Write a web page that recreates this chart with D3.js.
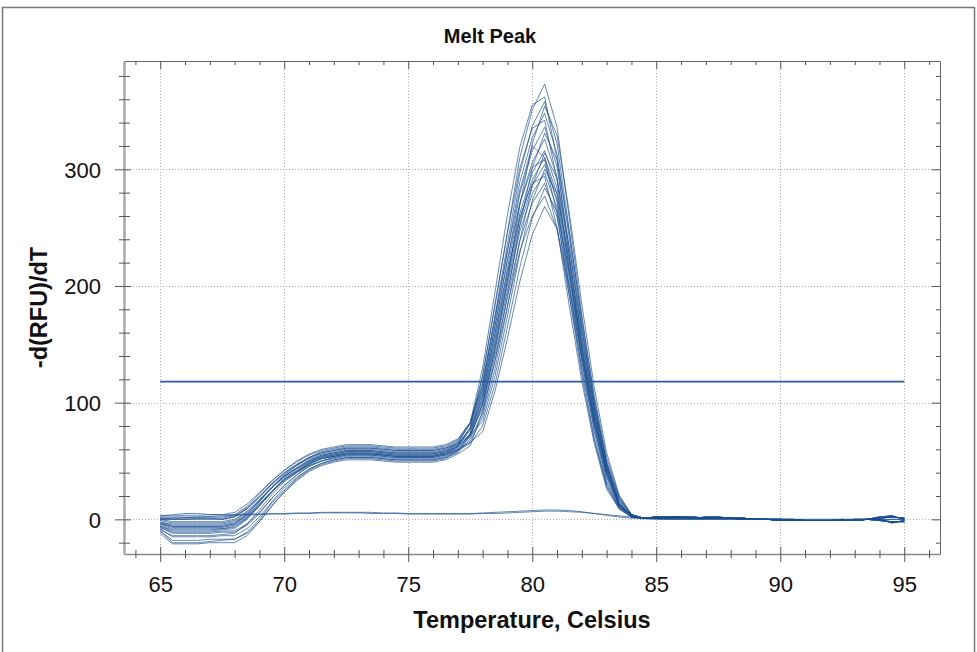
<!DOCTYPE html>
<html lang="en">
<head>
  <meta charset="UTF-8">
  <title>Melt Peak</title>
</head>
<body>
  <style>
    body { margin: 0; background-color: #fff; }
    svg { display: block; font-family: "Liberation Sans", Arial, sans-serif; }
    .grid line { stroke: #b0b0b0; stroke-width: 1px; stroke-dasharray: 1,2; }
    .curve { fill: none; stroke: #1b4f91; stroke-width: 0.9px; stroke-opacity: 0.75; }
    .threshold { stroke: #2a5f9f; stroke-width: 1.8px; }
    .axis text { font-size: 22px; fill: #111; font-family: "Liberation Sans", Arial, sans-serif; }
    .axis line { stroke: #555; }
    .axis-title { font-weight: bold; fill: #111; }
  </style>
  <svg width="977" height="652"></svg>
  <script src="https://cdn.jsdelivr.net/npm/d3@7"></script>
  <script>
    // temperature steps (Celsius)
    var temps = [65, 65.5, 66, 66.5, 67, 67.5, 68, 68.5, 69, 69.5,
                 70, 70.5, 71, 71.5, 72, 72.5, 73, 73.5, 74, 74.5,
                 75, 75.5, 76, 76.5, 77, 77.5, 78, 78.5, 79, 79.5,
                 80, 80.5, 81, 81.5, 82, 82.5, 83, 83.5, 84, 84.5,
                 85, 85.5, 86, 86.5, 87, 87.5, 88, 88.5, 89, 89.5,
                 90, 90.5, 91, 91.5, 92, 92.5, 93, 93.5, 94, 94.5, 95];

    // -d(RFU)/dT per well
    var c01 = [1,0,0,0,0,0,2,9,19,30, 40,47,53,57,59,61,61,61,60,59, 59,59,59,61,66,82,123,183,246,310, 351,373,336,257,175,104,48,15,3,1, 2,2,2,1,1,1,1,1,0,0, 0,-1,-1,-1,-1,-1,-1,0,1,2, 1];
    var c02 = [-3,-4,-4,-4,-4,-4,-2,5,16,27, 37,44,51,55,57,59,59,59,58,57, 57,57,57,59,65,83,130,195,261,319, 355,362,308,224,145,80,33,11,2,1, 1,1,2,2,1,1,1,0,0,0, -1,-1,-1,-1,-1,-1,0,0,-1,-2, -2];
    var c03 = [3,4,5,5,4,4,6,13,23,33, 42,49,55,59,61,63,63,63,62,61, 61,61,61,63,68,83,118,175,236,297, 337,358,322,247,168,100,47,14,3,1, 2,1,1,1,2,2,1,1,0,0, 0,0,-1,-1,-1,-1,-1,0,2,3, 0];
    var c04 = [-6,-9,-9,-9,-9,-8,-7,1,12,24, 35,42,49,54,56,58,58,58,57,56, 56,56,56,58,63,71,99,145,205,269, 322,354,329,262,184,113,57,21,4,1, 1,2,2,1,1,1,1,0,0,0, -1,-1,-1,-1,-1,0,-1,0,0,-3, -1];
    var c05 = [-4,-6,-6,-6,-6,-6,-4,4,15,28, 38,46,53,58,60,62,62,62,61,60, 60,60,60,62,67,82,115,171,230,289, 327,348,313,240,164,97,45,14,3,1, 2,2,2,1,1,1,1,1,0,0, 0,-1,-1,-1,-1,-1,-1,0,1,2, 1];
    var c06 = [-9,-14,-14,-14,-14,-13,-12,-4,8,21, 32,40,47,52,54,56,56,56,55,54, 54,54,54,56,62,79,123,185,246,301, 335,342,291,212,137,75,31,10,2,1, 1,1,2,2,1,1,1,0,0,0, -1,-1,-1,-1,-1,-1,0,0,-1,-2, -2];
    var c07 = [2,2,2,2,2,2,4,11,22,33, 42,50,56,60,62,64,64,64,63,62, 62,62,62,64,69,83,111,165,222,279, 316,336,302,232,158,94,44,13,3,1, 2,1,1,1,2,2,1,1,0,0, 0,0,-1,-1,-1,-1,-1,0,2,3, 0];
    var c08 = [-10,-20,-20,-20,-19,-18,-17,-12,-2,12, 23,33,41,46,49,51,51,51,50,49, 49,49,49,51,56,63,93,136,192,252, 301,331,308,245,172,106,53,20,4,1, 1,2,2,1,1,1,1,0,0,0, -1,-1,-1,-1,-1,0,-1,0,0,-3, -1];
    var c09 = [-2,-5,-5,-5,-5,-5,-3,4,15,27, 37,44,50,55,57,59,59,59,58,57, 57,57,57,59,64,78,108,160,215,271, 306,326,293,225,153,91,42,13,3,1, 2,2,2,1,1,1,1,1,0,0, 0,-1,-1,-1,-1,-1,-1,0,1,2, 1];
    var c10 = [-6,-10,-10,-10,-10,-9,-8,0,11,23, 34,41,48,53,55,57,57,57,56,55, 55,55,55,57,63,78,115,173,230,282, 320,310,272,198,128,70,29,10,2,1, 1,1,2,2,1,1,1,0,0,0, -1,-1,-1,-1,-1,-1,0,0,-1,-2, -2];
    var c11 = [0,0,0,1,1,0,2,9,19,30, 39,46,52,56,58,60,60,60,59,58, 58,58,58,60,65,78,104,155,209,262, 297,316,284,218,149,88,41,13,3,1, 2,1,1,1,2,2,1,1,0,0, 0,0,-1,-1,-1,-1,-1,0,2,3, 0];
    var c12 = [-7,-12,-12,-12,-12,-11,-11,-5,5,18, 29,38,45,50,53,55,55,55,54,53, 53,53,53,55,60,67,88,129,182,239, 286,314,292,232,163,100,50,19,4,1, 1,2,2,1,1,1,1,0,0,0, -1,-1,-1,-1,-1,0,-1,0,0,-3, -1];
    var c13 = [-1,-3,-3,-3,-3,-3,-1,6,16,27, 37,44,50,54,56,58,58,58,57,56, 56,56,56,58,63,76,102,152,205,257, 291,310,279,214,146,87,40,12,3,1, 2,2,2,1,1,1,1,1,0,0, 0,-1,-1,-1,-1,-1,-1,0,1,2, 1];
    var c14 = [-10,-18,-18,-18,-17,-17,-17,-11,0,14, 25,35,43,48,51,53,53,53,52,51, 51,51,51,53,59,74,111,166,222,271, 302,308,262,191,123,68,28,9,2,1, 1,1,2,2,1,1,1,0,0,0, -1,-1,-1,-1,-1,-1,0,0,-1,-2, -2];
    var c15 = [-5,-8,-8,-8,-8,-8,-6,1,12,24, 34,41,47,52,54,56,56,56,55,54, 54,54,54,56,61,73,100,149,201,252, 286,304,274,210,143,85,40,12,3,1, 2,1,1,1,2,2,1,1,0,0, 0,0,-1,-1,-1,-1,-1,0,2,3, 0];
    var c16 = [1,1,1,1,1,1,3,10,20,31, 40,47,53,57,59,61,61,61,60,59, 59,59,59,61,65,72,84,123,174,228, 273,300,279,222,156,96,48,18,4,1, 1,2,2,1,1,1,1,0,0,0, -1,-1,-1,-1,-1,0,-1,0,0,-3, -1];
    var c17 = [-3,-6,-6,-6,-6,-6,-4,3,13,24, 33,40,46,50,52,54,54,54,53,52, 52,52,52,54,59,71,98,146,196,247, 279,297,267,205,140,83,39,12,3,1, 2,2,2,1,1,1,1,1,0,0, 0,-1,-1,-1,-1,-1,-1,0,1,2, 1];
    var c18 = [-12,-21,-21,-21,-20,-20,-20,-14,-2,11, 24,34,42,47,50,52,52,52,51,50, 50,50,50,52,58,72,106,159,212,259, 288,294,250,182,118,65,26,9,2,1, 1,1,2,2,1,1,1,0,0,0, -1,-1,-1,-1,-1,-1,0,0,-1,-2, -2];
    var c19 = [0,-2,-2,-2,-2,-2,0,7,17,27, 36,43,49,53,55,57,57,57,56,55, 55,55,55,57,62,73,95,141,190,239, 271,288,259,199,135,81,37,12,3,1, 2,1,1,1,2,2,1,1,0,0, 0,0,-1,-1,-1,-1,-1,0,2,3, 0];
    var c20 = [-7,-11,-11,-11,-11,-10,-10,-4,6,18, 29,38,46,50,53,55,55,55,54,53, 53,53,53,55,59,65,80,116,165,216, 258,284,264,210,148,91,45,17,4,1, 1,2,2,1,1,1,1,0,0,0, -1,-1,-1,-1,-1,0,-1,0,0,-3, -1];
    var c21 = [-8,-15,-15,-15,-15,-14,-14,-8,2,15, 27,36,43,48,51,53,53,53,52,51, 51,51,51,53,57,69,91,136,183,230, 260,277,249,191,130,78,36,11,3,1, 2,2,2,1,1,1,1,1,0,0, 0,-1,-1,-1,-1,-1,-1,0,1,2, 1];
    var c22 = [-4,-7,-7,-7,-7,-7,-5,2,13,24, 34,41,48,52,54,56,56,56,55,54, 54,54,54,56,60,66,75,110,155,204, 244,268,249,198,139,86,43,16,4,1, 1,1,2,2,1,1,1,0,0,0, -1,-1,-1,-1,-1,-1,0,0,-1,-2, -2];
    // no-template wells
    var ntc1 = [3,3,3.5,3.5,4,4,4,4.5,4.5,5, 5,5.5,5.5,6,6,6,6,6,5.5,5.5, 5,5,5,5,5,5,5.5,6,6.5,7, 7.5,8,8,7.5,6.5,5,3.5,2,1,0.5, 0,0,0,0,0,0,0,0,0,0, 0,0,0,0,0,0,0,0,0,0, 0];
    var ntc2 = [0,1,1.5,2,2.5,3,3.5,4,4,4.5, 4.5,5,5,5.5,5.5,5.5,5.5,5,5,5, 4.5,4.5,4.5,4.5,4.5,4.5,5,5,5.5,6, 6.5,7,7,6.5,6,5,4,3,2,1, 0.5,0,0,0,0,0,0,0,0,0, 0,0,0,0,0,0,0,0,0,0, 0];

    var wells = [c01, c02, c03, c04, c05, c06, c07, c08, c09, c10, c11,
                 c12, c13, c14, c15, c16, c17, c18, c19, c20, c21, c22, ntc1, ntc2];

    var thresholdTemps = [65, 95];
    var thresholdValue = 118;

    var xMajor = [65, 70, 75, 80, 85, 90, 95];
    var xTicks = [64, 65, 66, 67, 68, 69, 70, 71, 72, 73, 74, 75, 76, 77, 78, 79, 80,
                  81, 82, 83, 84, 85, 86, 87, 88, 89, 90, 91, 92, 93, 94, 95, 96];
    var yMajor = [0, 100, 200, 300];
    var yTicks = [-20, 0, 20, 40, 60, 80, 100, 120, 140, 160, 180, 200, 220, 240,
                  260, 280, 300, 320, 340, 360, 380];

    var svg = d3.select("svg"),
        plot = {left: 124, right: 940, top: 61, bottom: 554};

    var x = d3.scaleLinear().domain([63.54, 96.44]).range([plot.left, plot.right]);
    var y = d3.scaleLinear().domain([-29.7, 392.8]).range([plot.bottom, plot.top]);

    // outer frame
    svg.append("rect")
        .attr("x", 2.5).attr("y", 7.5)
        .attr("width", 972).attr("height", 680)
        .attr("fill", "none")
        .attr("stroke", "#777")
        .attr("stroke-width", 1.5);

    // title
    svg.append("text")
        .attr("class", "axis-title")
        .attr("x", 490).attr("y", 43)
        .attr("text-anchor", "middle")
        .style("font-size", "20px")
        .text("Melt Peak");

    // dotted grid
    var grid = svg.append("g").attr("class", "grid");
    grid.selectAll(".gx").data(xMajor).enter().append("line")
        .attr("x1", function(d) { return Math.round(x(d)) + 0.5; })
        .attr("x2", function(d) { return Math.round(x(d)) + 0.5; })
        .attr("y1", plot.top).attr("y2", plot.bottom);
    grid.selectAll(".gy").data(yMajor).enter().append("line")
        .attr("y1", function(d) { return Math.round(y(d)) + 0.5; })
        .attr("y2", function(d) { return Math.round(y(d)) + 0.5; })
        .attr("x1", plot.left).attr("x2", plot.right);

    // melt curves
    var line = d3.line()
        .x(function(d, i) { return x(temps[i]); })
        .y(function(d) { return y(d); });

    svg.append("g").selectAll("path")
        .data(wells)
      .enter().append("path")
        .attr("class", "curve")
        .attr("d", line);

    // threshold
    svg.append("line")
        .attr("class", "threshold")
        .attr("x1", x(thresholdTemps[0])).attr("x2", x(thresholdTemps[1]))
        .attr("y1", y(thresholdValue)).attr("y2", y(thresholdValue));

    function isMajor(list) {
      return function(d) { return list.indexOf(d) >= 0; };
    }
    var xIsMajor = isMajor(xMajor), yIsMajor = isMajor(yMajor);

    // bottom axis, ticks cross the line
    var gx = svg.append("g")
        .attr("class", "axis")
        .attr("transform", "translate(0," + plot.bottom + ")")
        .call(d3.axisBottom(x).tickValues(xTicks).tickSizeOuter(0)
          .tickFormat(function(d) { return xIsMajor(d) ? d : ""; }));
    gx.select(".domain").attr("stroke", "#8a8a8a").attr("stroke-width", 1.5);
    gx.selectAll(".tick line")
        .attr("y1", function(d) { return xIsMajor(d) ? -7 : -4; })
        .attr("y2", function(d) { return xIsMajor(d) ? 8 : 4; });
    gx.selectAll(".tick text").attr("y", 38).attr("dy", 0);

    // top axis, ticks point inward
    var gt = svg.append("g")
        .attr("class", "axis")
        .attr("transform", "translate(0," + plot.top + ")")
        .call(d3.axisBottom(x).tickValues(xTicks).tickSizeOuter(0).tickFormat(""));
    gt.select(".domain").attr("stroke", "#666");
    gt.selectAll(".tick line")
        .attr("y2", function(d) { return xIsMajor(d) ? 8 : 4; });

    // left axis
    var gy = svg.append("g")
        .attr("class", "axis")
        .attr("transform", "translate(" + plot.left + ",0)")
        .call(d3.axisLeft(y).tickValues(yTicks).tickSizeOuter(0)
          .tickFormat(function(d) { return yIsMajor(d) ? d : ""; }));
    gy.select(".domain").attr("stroke", "#a8a8a8").attr("stroke-width", 2.5);
    gy.selectAll(".tick line")
        .attr("x1", function(d) { return yIsMajor(d) ? 7 : 6; })
        .attr("x2", function(d) { return yIsMajor(d) ? -9 : -5; });
    gy.selectAll(".tick text").attr("x", -23).attr("dy", "0.36em");

    // right axis, ticks point inward
    var gr = svg.append("g")
        .attr("class", "axis")
        .attr("transform", "translate(" + plot.right + ",0)")
        .call(d3.axisLeft(y).tickValues(yTicks).tickSizeOuter(0).tickFormat(""));
    gr.select(".domain").attr("stroke", "#666");
    gr.selectAll(".tick line")
        .attr("x2", function(d) { return yIsMajor(d) ? -8 : -4; });

    // axis titles
    svg.append("text")
        .attr("class", "axis-title")
        .attr("x", (plot.left + plot.right) / 2).attr("y", 628)
        .attr("text-anchor", "middle")
        .style("font-size", "23.5px")
        .text("Temperature, Celsius");

    svg.append("text")
        .attr("class", "axis-title")
        .attr("transform", "translate(47," + (plot.top + plot.bottom) / 2 + ") rotate(-90)")
        .attr("text-anchor", "middle")
        .style("font-size", "23.5px")
        .text("-d(RFU)/dT");
  </script>
</body>
</html>
